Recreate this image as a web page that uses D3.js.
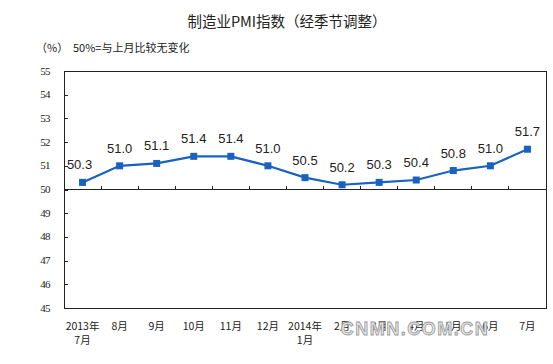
<!DOCTYPE html>
<html><head><meta charset="utf-8">
<script src="https://cdn.jsdelivr.net/npm/d3@7"></script>
<style>body{margin:0;background:#fff}svg{display:block}</style>
</head><body>
<script>
const categories = ["2013年\n7月","8月","9月","10月","11月","12月","2014年\n1月","2月","3月","4月","5月","6月","7月"];
const values = [50.3,51.0,51.1,51.4,51.4,51.0,50.5,50.2,50.3,50.4,50.8,51.0,51.7];
const yTicks = [45,46,47,48,49,50,51,52,53,54,55];
const title = "制造业PMI指数（经季节调整）";
const unitLabel = "（%）";
const note = "50%=与上月比较无变化";

(function () {
const W = 553, H = 364;
const svg = d3.select("body").append("svg").attr("width", W).attr("height", H);
const pL = 64, pR = 546, pT = 71, pB = 308;
const x = d3.scaleBand().domain(d3.range(categories.length)).range([pL, pR]);
const y = d3.scaleLinear().domain([45, 55]).range([pB, pT]);
const blue = "#1862c0";

// title
svg.append("text").attr("x", 287).attr("y", 27).attr("text-anchor", "middle")
  .attr("font-family", "Noto Sans CJK SC").attr("font-size", 14.5).attr("fill", "#222").text(title);
svg.append("text").attr("x", 36).attr("y", 52).attr("font-family", "Noto Sans CJK SC")
  .attr("font-size", 11).attr("fill", "#222").text(unitLabel);
svg.append("text").attr("x", 73).attr("y", 52).attr("font-family", "Noto Sans CJK SC")
  .attr("font-size", 11).attr("fill", "#222").text(note);

// frame
svg.append("rect").attr("x", pL).attr("y", pT).attr("width", pR - pL).attr("height", pB - pT)
  .attr("fill", "none").attr("stroke", "#222").attr("stroke-width", 1).attr("shape-rendering", "crispEdges");

// y axis
const yAxis = d3.axisRight(y).tickValues(yTicks).tickSize(4).tickFormat("");
const ya = svg.append("g").attr("transform", `translate(${pL},0)`).call(yAxis);
ya.select(".domain").remove();
ya.selectAll("line").attr("stroke", "#222").attr("shape-rendering", "crispEdges");
svg.append("g").selectAll("text").data(yTicks).join("text")
  .attr("x", 50).attr("y", d => y(d) + 3.5).attr("text-anchor", "end")
  .attr("font-family", "Liberation Serif").attr("font-size", 11).attr("fill", "#222")
  .attr("letter-spacing", -0.6).text(d => d);

// 50 line with ticks upward
svg.append("line").attr("x1", pL).attr("x2", pR).attr("y1", y(50)).attr("y2", y(50))
  .attr("stroke", "#222").attr("shape-rendering", "crispEdges");
svg.append("g").selectAll("line").data(d3.range(1, categories.length)).join("line")
  .attr("x1", i => x(i)).attr("x2", i => x(i)).attr("y1", y(50) - 4).attr("y2", y(50))
  .attr("stroke", "#222").attr("shape-rendering", "crispEdges");

// x labels
const xl = svg.append("g");
categories.forEach((c, i) => {
  const lines = c.split("\n");
  const t = xl.append("text").attr("x", x(i) + x.bandwidth() / 2).attr("y", 330)
    .attr("text-anchor", "middle").attr("font-family", "Noto Sans CJK SC")
    .attr("font-size", 10.5).attr("fill", "#222");
  lines.forEach((l, k) => t.append("tspan").attr("x", x(i) + x.bandwidth() / 2).attr("dy", k ? 14 : 0).text(l));
});

// line
const cx = i => x(i) + x.bandwidth() / 2;
svg.append("path").datum(values)
  .attr("d", d3.line().x((d, i) => cx(i)).y(d => y(d)))
  .attr("fill", "none").attr("stroke", blue).attr("stroke-width", 2.2);
svg.append("g").selectAll("rect").data(values).join("rect")
  .attr("x", (d, i) => cx(i) - 3.5).attr("y", d => y(d) - 3.5).attr("width", 7).attr("height", 7)
  .attr("fill", blue);
svg.append("g").selectAll("text").data(values).join("text")
  .attr("x", (d, i) => cx(i) - (i === 0 ? 3 : 0)).attr("y", d => y(d) - 13)
  .attr("text-anchor", "middle").attr("font-family", "Liberation Sans").attr("font-size", 13)
  .attr("fill", "#222").text(d => d.toFixed(1));

// watermark
svg.append("text").attr("x", 415).attr("y", 335).attr("text-anchor", "middle")
  .attr("font-family", "Liberation Sans").attr("font-weight", "bold").attr("font-size", 18)
  .attr("letter-spacing", 1.5).attr("fill", "#e4e4e4").attr("stroke", "#9a9a9a").attr("stroke-width", 0.8)
  .text("CNMN.COM.CN");
})();
</script>
</body></html>
